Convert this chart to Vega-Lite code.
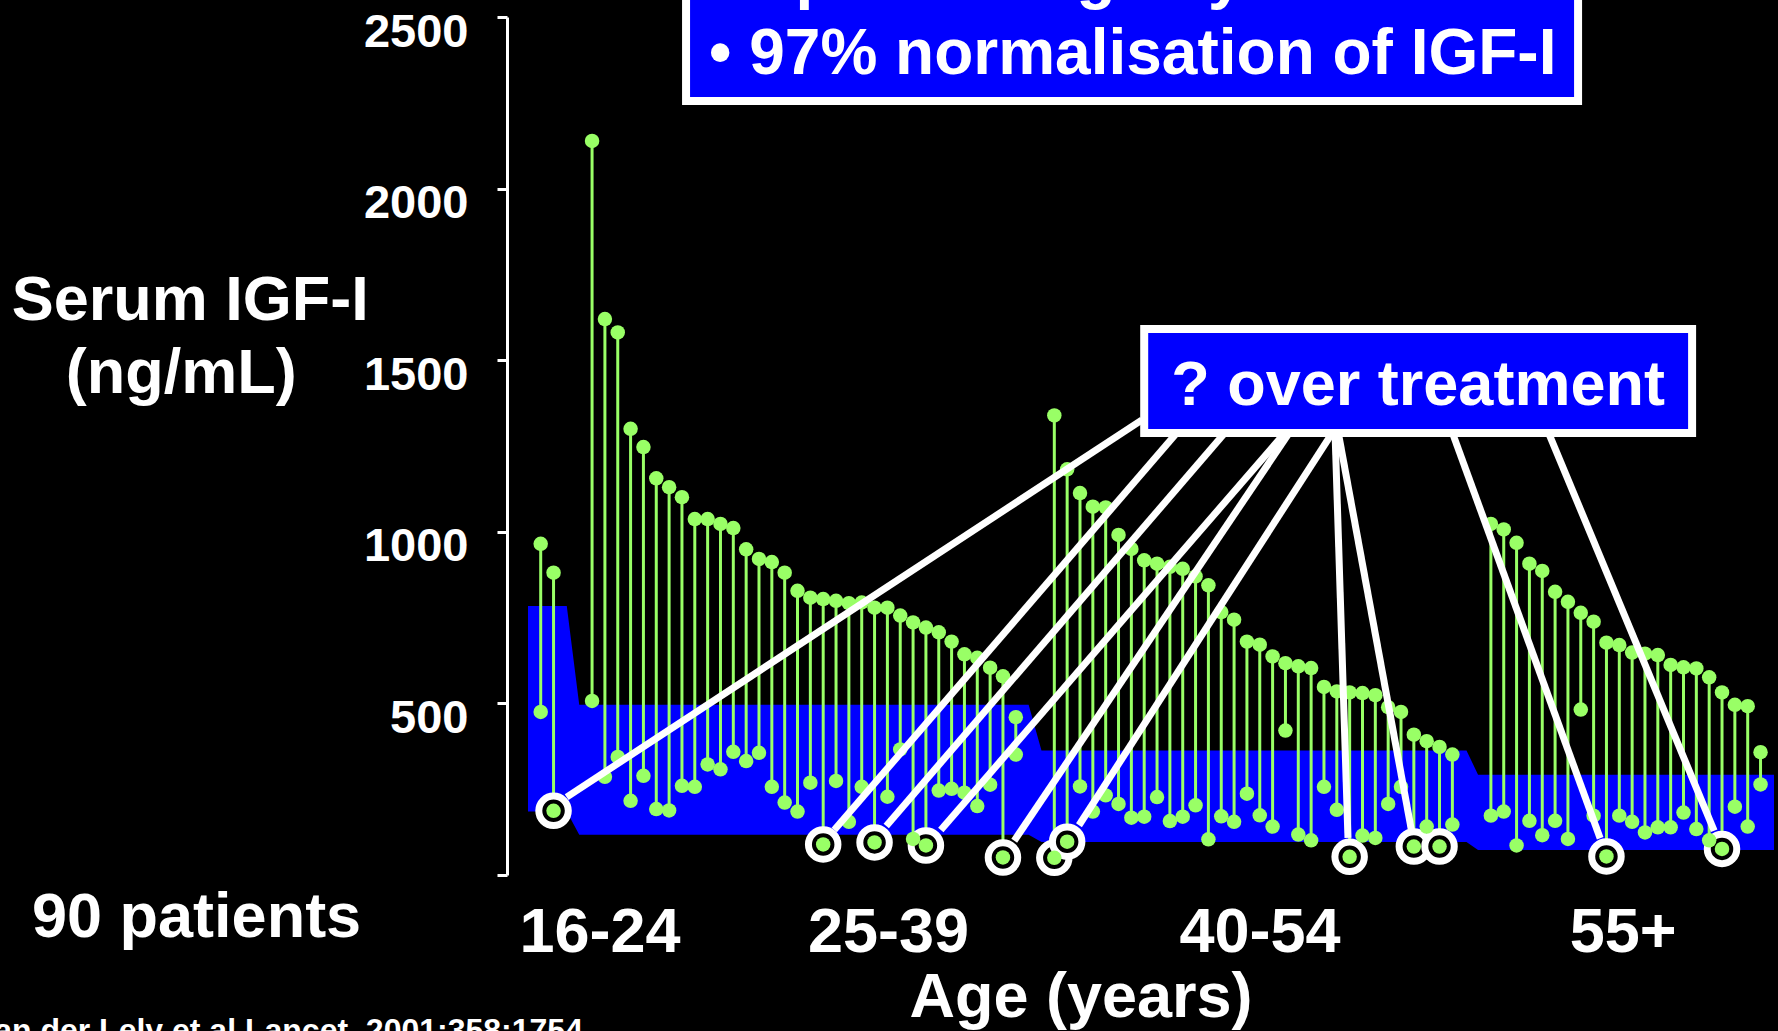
{
  "$schema": "https://vega.github.io/schema/vega-lite/v6.json",
  "autosize": "none",
  "width": 1271,
  "height": 858,
  "padding": {"left": 507, "top": 17, "right": 0, "bottom": 156},
  "background": "black",
  "config": {"view": {"stroke": null}},
  "datasets": {
    "patients": [
      {"slot": 0, "base": 965, "treated": 475, "circled": false},
      {"slot": 1, "base": 881, "treated": 187, "circled": true},
      {"slot": 4, "base": 2139, "treated": 507, "circled": false},
      {"slot": 5, "base": 1620, "treated": 286, "circled": false},
      {"slot": 6, "base": 1581, "treated": 344, "circled": false},
      {"slot": 7, "base": 1300, "treated": 216, "circled": false},
      {"slot": 8, "base": 1247, "treated": 289, "circled": false},
      {"slot": 9, "base": 1156, "treated": 192, "circled": false},
      {"slot": 10, "base": 1130, "treated": 188, "circled": false},
      {"slot": 11, "base": 1101, "treated": 260, "circled": false},
      {"slot": 12, "base": 1037, "treated": 257, "circled": false},
      {"slot": 13, "base": 1037, "treated": 322, "circled": false},
      {"slot": 14, "base": 1023, "treated": 308, "circled": false},
      {"slot": 15, "base": 1011, "treated": 359, "circled": false},
      {"slot": 16, "base": 949, "treated": 332, "circled": false},
      {"slot": 17, "base": 921, "treated": 356, "circled": false},
      {"slot": 18, "base": 912, "treated": 257, "circled": false},
      {"slot": 19, "base": 881, "treated": 211, "circled": false},
      {"slot": 20, "base": 828, "treated": 185, "circled": false},
      {"slot": 21, "base": 808, "treated": 269, "circled": false},
      {"slot": 22, "base": 804, "treated": 89, "circled": true},
      {"slot": 23, "base": 799, "treated": 274, "circled": false},
      {"slot": 24, "base": 792, "treated": 155, "circled": false},
      {"slot": 25, "base": 794, "treated": 257, "circled": false},
      {"slot": 26, "base": 779, "treated": 95, "circled": true},
      {"slot": 27, "base": 779, "treated": 228, "circled": false},
      {"slot": 28, "base": 756, "treated": 366, "circled": false},
      {"slot": 29, "base": 736, "treated": 105, "circled": false},
      {"slot": 30, "base": 721, "treated": 86, "circled": true},
      {"slot": 31, "base": 707, "treated": 246, "circled": false},
      {"slot": 32, "base": 680, "treated": 251, "circled": false},
      {"slot": 33, "base": 643, "treated": 240, "circled": false},
      {"slot": 34, "base": 633, "treated": 201, "circled": false},
      {"slot": 35, "base": 604, "treated": 263, "circled": false},
      {"slot": 36, "base": 579, "treated": 51, "circled": true},
      {"slot": 37, "base": 460, "treated": 351, "circled": false},
      {"slot": 40, "base": 1339, "treated": 50, "circled": true},
      {"slot": 41, "base": 1182, "treated": 97, "circled": true},
      {"slot": 42, "base": 1113, "treated": 258, "circled": false},
      {"slot": 43, "base": 1073, "treated": 185, "circled": false},
      {"slot": 44, "base": 1071, "treated": 232, "circled": false},
      {"slot": 45, "base": 991, "treated": 207, "circled": false},
      {"slot": 46, "base": 950, "treated": 167, "circled": false},
      {"slot": 47, "base": 917, "treated": 170, "circled": false},
      {"slot": 48, "base": 907, "treated": 227, "circled": false},
      {"slot": 49, "base": 898, "treated": 157, "circled": false},
      {"slot": 50, "base": 892, "treated": 170, "circled": false},
      {"slot": 51, "base": 870, "treated": 203, "circled": false},
      {"slot": 52, "base": 844, "treated": 104, "circled": false},
      {"slot": 53, "base": 766, "treated": 171, "circled": false},
      {"slot": 54, "base": 744, "treated": 155, "circled": false},
      {"slot": 55, "base": 680, "treated": 237, "circled": false},
      {"slot": 56, "base": 671, "treated": 174, "circled": false},
      {"slot": 57, "base": 637, "treated": 141, "circled": false},
      {"slot": 58, "base": 617, "treated": 421, "circled": false},
      {"slot": 59, "base": 608, "treated": 118, "circled": false},
      {"slot": 60, "base": 603, "treated": 101, "circled": false},
      {"slot": 61, "base": 548, "treated": 257, "circled": false},
      {"slot": 62, "base": 535, "treated": 190, "circled": false},
      {"slot": 63, "base": 532, "treated": 53, "circled": true},
      {"slot": 64, "base": 530, "treated": 115, "circled": false},
      {"slot": 65, "base": 524, "treated": 108, "circled": false},
      {"slot": 66, "base": 489, "treated": 207, "circled": false},
      {"slot": 67, "base": 475, "treated": 257, "circled": false},
      {"slot": 68, "base": 409, "treated": 83, "circled": true},
      {"slot": 69, "base": 390, "treated": 141, "circled": false},
      {"slot": 70, "base": 373, "treated": 83, "circled": true},
      {"slot": 71, "base": 351, "treated": 147, "circled": false},
      {"slot": 74, "base": 1023, "treated": 173, "circled": false},
      {"slot": 75, "base": 1007, "treated": 185, "circled": false},
      {"slot": 76, "base": 968, "treated": 86, "circled": false},
      {"slot": 77, "base": 907, "treated": 158, "circled": false},
      {"slot": 78, "base": 886, "treated": 116, "circled": false},
      {"slot": 79, "base": 825, "treated": 158, "circled": false},
      {"slot": 80, "base": 796, "treated": 105, "circled": false},
      {"slot": 81, "base": 764, "treated": 482, "circled": false},
      {"slot": 82, "base": 738, "treated": 173, "circled": false},
      {"slot": 83, "base": 677, "treated": 54, "circled": true},
      {"slot": 84, "base": 670, "treated": 173, "circled": false},
      {"slot": 85, "base": 648, "treated": 155, "circled": false},
      {"slot": 86, "base": 645, "treated": 124, "circled": false},
      {"slot": 87, "base": 641, "treated": 139, "circled": false},
      {"slot": 88, "base": 612, "treated": 139, "circled": false},
      {"slot": 89, "base": 605, "treated": 182, "circled": false},
      {"slot": 90, "base": 602, "treated": 134, "circled": false},
      {"slot": 91, "base": 576, "treated": 101, "circled": false},
      {"slot": 92, "base": 532, "treated": 76, "circled": true},
      {"slot": 93, "base": 496, "treated": 199, "circled": false},
      {"slot": 94, "base": 492, "treated": 141, "circled": false},
      {"slot": 95, "base": 358, "treated": 264, "circled": false}
    ],
    "band": [
      {"slot": -0.99, "lower": 185, "upper": 784},
      {"slot": 2.03, "lower": 185, "upper": 784},
      {"slot": 3.0, "lower": 117, "upper": 496},
      {"slot": 38.0, "lower": 117, "upper": 496},
      {"slot": 39.0, "lower": 96, "upper": 363},
      {"slot": 72.1, "lower": 96, "upper": 363},
      {"slot": 73.0, "lower": 73, "upper": 292},
      {"slot": 96.05, "lower": 73, "upper": 292}
    ],
    "connectors": [
      {"x1": 46.83, "v1": 1326, "x2": 2.02, "v2": 227},
      {"x1": 49.63, "v1": 1292, "x2": 22.86, "v2": 131},
      {"x1": 53.37, "v1": 1292, "x2": 26.91, "v2": 143},
      {"x1": 58.05, "v1": 1292, "x2": 31.16, "v2": 131},
      {"x1": 58.36, "v1": 1292, "x2": 36.88, "v2": 100},
      {"x1": 61.71, "v1": 1292, "x2": 41.92, "v2": 145},
      {"x1": 61.86, "v1": 1292, "x2": 62.87, "v2": 108},
      {"x1": 62.10, "v1": 1292, "x2": 67.80, "v2": 133},
      {"x1": 70.97, "v1": 1292, "x2": 82.51, "v2": 107},
      {"x1": 78.45, "v1": 1292, "x2": 91.39, "v2": 129}
    ],
    "boxes": [
      {"x1": 11.32, "x2": 80.79, "v1": 2255, "v2": 2700},
      {"x1": 47.0, "x2": 89.67, "v1": 1288, "v2": 1591}
    ],
    "labels": [
      {"text": "Serum IGF-I", "slot": -27.3, "val": 1617},
      {"text": "(ng/mL)", "slot": -28.0, "val": 1405},
      {"text": "90 patients", "slot": -26.8, "val": -181},
      {"text": "16-24", "slot": 4.62, "val": -224},
      {"text": "25-39", "slot": 27.09, "val": -224},
      {"text": "40-54", "slot": 56.02, "val": -224},
      {"text": "55+", "slot": 84.3, "val": -224},
      {"text": "Age (years)", "slot": 42.08, "val": -413},
      {"text": "? over treatment", "slot": 68.33, "val": 1370}
    ],
    "boxtext": [
      {"text": "• Up to 40 mg/day", "slot": 13.11, "val": 2558},
      {"text": "• 97% normalisation of IGF-I", "slot": 13.11, "val": 2334}
    ],
    "cite": [
      {"text": "van der Lely et al Lancet\u00a0 2001;358:1754", "slot": 3.29, "val": -484}
    ]
  },
  "layer": [
    {
      "data": {"name": "band"},
      "mark": {"type": "area", "color": "#0000ff", "interpolate": "linear", "opacity": 1},
      "encoding": {
        "x": {"field": "slot", "type": "quantitative", "scale": {"domain": [-2.625, 96.36], "nice": false, "zero": false}, "axis": null},
        "y": {"field": "upper", "type": "quantitative", "scale": {"domain": [0, 2500], "nice": false, "zero": false},
          "axis": {"title": null, "values": [0, 500, 1000, 1500, 2000, 2500], "labelExpr": "datum.value == 0 ? '' : datum.label",
            "grid": false, "domainColor": "white", "domainWidth": 3, "tickColor": "white", "tickWidth": 3, "tickSize": 10,
            "labelColor": "white", "labelFont": "Liberation Sans", "labelFontWeight": "bold", "labelFontSize": 47,
            "labelPadding": 29, "labelOffset": 15, "labelOverlap": false, "labelBound": false, "labelFlush": false, "format": "d"}},
        "y2": {"field": "lower"}
      }
    },
    {
      "data": {"name": "patients"},
      "mark": {"type": "rule", "color": "#99ff66", "strokeWidth": 3},
      "encoding": {
        "x": {"field": "slot", "type": "quantitative", "scale": {"domain": [-2.625, 96.36], "nice": false, "zero": false}, "axis": null},
        "y": {"field": "base", "type": "quantitative", "scale": {"domain": [0, 2500], "nice": false, "zero": false}, "axis": {"title": null}},
        "y2": {"field": "treated"}
      }
    },
    {
      "data": {"name": "patients"},
      "transform": [{"filter": "datum.circled"}],
      "mark": {"type": "point", "shape": "circle", "filled": false, "fill": "black", "fillOpacity": 1, "stroke": "white", "strokeWidth": 7, "size": 870, "opacity": 1},
      "encoding": {
        "x": {"field": "slot", "type": "quantitative", "scale": {"domain": [-2.625, 96.36], "nice": false, "zero": false}, "axis": null},
        "y": {"field": "treated", "type": "quantitative", "scale": {"domain": [0, 2500], "nice": false, "zero": false}, "axis": {"title": null}}
      }
    },
    {
      "data": {"name": "patients"},
      "mark": {"type": "circle", "color": "#99ff66", "size": 210, "opacity": 1},
      "encoding": {
        "x": {"field": "slot", "type": "quantitative", "scale": {"domain": [-2.625, 96.36], "nice": false, "zero": false}, "axis": null},
        "y": {"field": "base", "type": "quantitative", "scale": {"domain": [0, 2500], "nice": false, "zero": false}, "axis": {"title": null}}
      }
    },
    {
      "data": {"name": "patients"},
      "mark": {"type": "circle", "color": "#99ff66", "size": 210, "opacity": 1},
      "encoding": {
        "x": {"field": "slot", "type": "quantitative", "scale": {"domain": [-2.625, 96.36], "nice": false, "zero": false}, "axis": null},
        "y": {"field": "treated", "type": "quantitative", "scale": {"domain": [0, 2500], "nice": false, "zero": false}, "axis": {"title": null}}
      }
    },
    {
      "data": {"name": "connectors"},
      "mark": {"type": "rule", "color": "white", "strokeWidth": 7},
      "encoding": {
        "x": {"field": "x1", "type": "quantitative", "scale": {"domain": [-2.625, 96.36], "nice": false, "zero": false}, "axis": null},
        "x2": {"field": "x2"},
        "y": {"field": "v1", "type": "quantitative", "scale": {"domain": [0, 2500], "nice": false, "zero": false}, "axis": {"title": null}},
        "y2": {"field": "v2"}
      }
    },
    {
      "data": {"name": "boxes"},
      "mark": {"type": "rect", "fill": "#0000ff", "stroke": "white", "strokeWidth": 8, "clip": false},
      "encoding": {
        "x": {"field": "x1", "type": "quantitative", "scale": {"domain": [-2.625, 96.36], "nice": false, "zero": false}, "axis": null},
        "x2": {"field": "x2"},
        "y": {"field": "v1", "type": "quantitative", "scale": {"domain": [0, 2500], "nice": false, "zero": false}, "axis": {"title": null}},
        "y2": {"field": "v2"}
      }
    },
    {
      "data": {"name": "labels"},
      "mark": {"type": "text", "color": "white", "font": "Liberation Sans", "fontWeight": "bold", "fontSize": 63, "align": "center", "baseline": "alphabetic", "clip": false},
      "encoding": {
        "x": {"field": "slot", "type": "quantitative", "scale": {"domain": [-2.625, 96.36], "nice": false, "zero": false}, "axis": null},
        "y": {"field": "val", "type": "quantitative", "scale": {"domain": [0, 2500], "nice": false, "zero": false}, "axis": {"title": null}},
        "text": {"field": "text"}
      }
    },
    {
      "data": {"name": "boxtext"},
      "mark": {"type": "text", "color": "white", "font": "Liberation Sans", "fontWeight": "bold", "fontSize": 64, "align": "left", "baseline": "alphabetic", "clip": false},
      "encoding": {
        "x": {"field": "slot", "type": "quantitative", "scale": {"domain": [-2.625, 96.36], "nice": false, "zero": false}, "axis": null},
        "y": {"field": "val", "type": "quantitative", "scale": {"domain": [0, 2500], "nice": false, "zero": false}, "axis": {"title": null}},
        "text": {"field": "text"}
      }
    },
    {
      "data": {"name": "cite"},
      "mark": {"type": "text", "color": "white", "font": "Liberation Sans", "fontWeight": "bold", "fontSize": 32, "align": "right", "baseline": "alphabetic", "clip": false},
      "encoding": {
        "x": {"field": "slot", "type": "quantitative", "scale": {"domain": [-2.625, 96.36], "nice": false, "zero": false}, "axis": null},
        "y": {"field": "val", "type": "quantitative", "scale": {"domain": [0, 2500], "nice": false, "zero": false}, "axis": {"title": null}},
        "text": {"field": "text"}
      }
    }
  ]
}
